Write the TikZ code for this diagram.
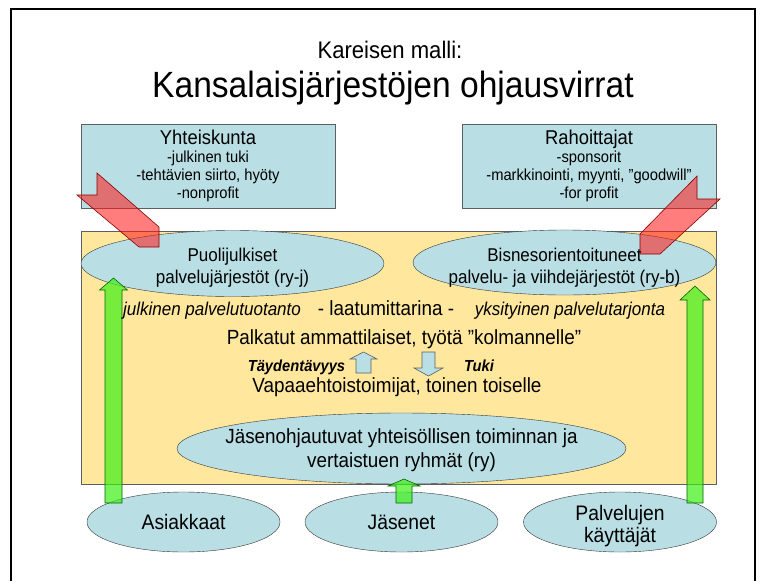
\documentclass[tikz,border=0pt]{standalone}
\usepackage{fontspec}
\setmainfont{Liberation Sans}[FakeStretch=0.92]
\usetikzlibrary{shapes.geometric}

\definecolor{tealfill}{RGB}{185,222,228}
\definecolor{boxline}{RGB}{95,95,95}
\definecolor{ovalline}{RGB}{55,55,55}
\definecolor{paleyellow}{RGB}{255,231,158}
\definecolor{flowred}{RGB}{255,20,20}
\definecolor{flowgreen}{RGB}{60,240,20}

\tikzset{
  infobox/.style={draw=boxline, fill=tealfill, minimum width=254pt, minimum height=84pt,
    inner sep=0pt, align=center, font=\fontsize{16}{18}\selectfont},
  oval/.style={ellipse, draw=ovalline, fill=tealfill, inner sep=0pt},
  body/.style={font=\fontsize{20.5}{24}\selectfont, inner sep=0pt},
  slanted/.style={font={\fontsize{18.5}{22}\selectfont\itshape}, inner sep=0pt},
  boldslant/.style={font={\fontsize{16}{18}\selectfont\bfseries\itshape}, inner sep=0pt},
  ovaltext/.style={align=center, font=\fontsize{18.5}{21.6}\selectfont, inner sep=0pt},
  redflow/.style={draw=red!55!black, fill=flowred, fill opacity=0.55, line width=0.6pt},
  greenflow/.style={draw=green!40!black, fill=flowgreen, fill opacity=0.7, line width=0.6pt},
  smallflow/.style={draw=boxline, fill=tealfill, line width=0.6pt}
}

\begin{document}
\begin{tikzpicture}[x=1pt, y=-1pt]
  \useasboundingbox (0,0) rectangle (770,581);
  \fill[white] (0,0) rectangle (770,581);
  \draw[line width=2pt] (11,581) -- (11,9) -- (755,9) -- (755,581);

  \node[anchor=base, font=\fontsize{24}{28}\selectfont] (subtitle) at (390,58) {Kareisen malli:};
  \node[anchor=base, font=\fontsize{36.5}{40}\selectfont] (title) at (393,97) {Kansalaisjärjestöjen ohjausvirrat};

  \node[infobox] (yhteiskunta) at (208,166) {{\fontsize{20}{18}\selectfont Yhteiskunta}\\-julkinen tuki\\-tehtävien siirto, hyöty\\-nonprofit};
  \node[infobox] (rahoittajat) at (589,166) {{\fontsize{20}{18}\selectfont Rahoittajat}\\-sponsorit\\-markkinointi, myynti, ”goodwill”\\-for profit};

  \draw[boxline, fill=paleyellow] (81,231) rectangle (716,484);

  \node[oval, minimum width=303pt, minimum height=66pt] (puoli) at (232.5,263.5) {};
  \node[oval, minimum width=303pt, minimum height=65pt] (bisnes) at (564.5,262.5) {};
  \node[oval, minimum width=449pt, minimum height=71pt] (jasen) at (401.5,448.5) {};
  \node[oval, body, font=\fontsize{21}{22}\selectfont, minimum width=193pt, minimum height=60pt] (asiakkaat) at (183.5,522) {Asiakkaat};
  \node[oval, body, font=\fontsize{21}{22}\selectfont, minimum width=193pt, minimum height=60pt] (jasenet) at (401.5,522) {Jäsenet};
  \node[oval, minimum width=193pt, minimum height=60pt] (kayttajat) at (620,522) {};

  \draw[greenflow] (105,503) -- (105,290) -- (99.5,290) -- (113.5,278) -- (127.5,290) -- (122,290) -- (122,503) -- cycle;
  \draw[greenflow] (687,503) -- (687,300) -- (680,300) -- (695,286) -- (710,300) -- (703,300) -- (703,503) -- cycle;
  \draw[greenflow] (396,503) -- (396,486) -- (388,486) -- (404,479) -- (420,486) -- (412,486) -- (412,503) -- cycle;

  \draw[redflow] (97,173) -- (159,227) -- (159,247) -- (139,247) -- (77,195) -- (97,195) -- cycle;
  \draw[redflow] (697,176) -- (640,234) -- (640,254) -- (660,254) -- (720,199) -- (697,199) -- cycle;

  \draw[smallflow] (356,373) -- (356,359) -- (350,359) -- (363.5,352) -- (377,359) -- (371,359) -- (371,373) -- cycle;
  \draw[smallflow] (422,352) -- (435,352) -- (435,368) -- (443,368) -- (428.5,376) -- (414,368) -- (422,368) -- cycle;

  \node[ovaltext] (puolitxt) at (232.5,268) {Puolijulkiset\\palvelujärjestöt (ry-j)};
  \node[ovaltext] (bisnestxt) at (564.5,268) {Bisnesorientoituneet\\palvelu- ja viihdejärjestöt (ry-b)};
  \node[ovaltext, font=\fontsize{20.5}{24}\selectfont] (jasentxt) at (401.5,450.5) {Jäsenohjautuvat yhteisöllisen toiminnan ja\\vertaistuen ryhmät (ry)};
  \node[ovaltext, font=\fontsize{21}{22}\selectfont] (kayttajattxt) at (620,526) {Palvelujen\\käyttäjät};

  \node[anchor=base, slanted] (julkinen) at (212,315) {julkinen palvelutuotanto};
  \node[anchor=base, body] (laatu) at (386,315) {- laatumittarina -};
  \node[anchor=base, slanted] (yksityinen) at (570,315) {yksityinen palvelutarjonta};
  \node[anchor=base, body] (palkatut) at (404,344) {Palkatut ammattilaiset, työtä ”kolmannelle”};
  \node[anchor=base, boldslant] (taydentavyys) at (296.5,371) {Täydentävyys};
  \node[anchor=base, boldslant] (tuki) at (479,371) {Tuki};
  \node[anchor=base, body] (vapaa) at (397,392) {Vapaaehtoistoimijat, toinen toiselle};
\end{tikzpicture}
\end{document}
